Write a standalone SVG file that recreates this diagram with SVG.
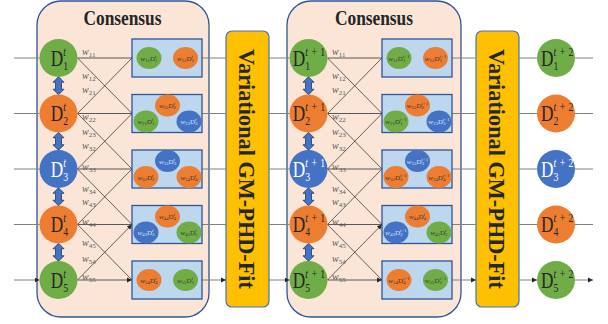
<svg xmlns="http://www.w3.org/2000/svg" xmlns:xlink="http://www.w3.org/1999/xlink" width="608" height="324" viewBox="0 0 608 324">
<style>
text{font-family:"Liberation Serif","Times New Roman",serif;fill:#262626}
.blk{fill:#fbe5d6;stroke:#2f5597;stroke-width:1.3}
.box{fill:#bdd7ee;stroke:#2f5597;stroke-width:1.3}
.fit{fill:#ffc000;stroke:#4472c4;stroke-width:1.2}
.g{fill:#70ad47}.o{fill:#ed7d31}.b{fill:#4472c4}
.in{stroke:#808080;stroke-width:1;fill:none;marker-end:url(#ah)}
.hz{stroke:#595959;stroke-width:1;fill:none;marker-end:url(#ah)}
.dg{stroke:#262626;stroke-width:0.7;fill:none;marker-end:url(#ah)}
.dbl{fill:#4472c4;stroke:#1f3864;stroke-width:0.8}
.ttl{font-weight:bold;font-size:20px;text-anchor:middle}
.vt{font-weight:bold;font-size:24px;text-anchor:middle}
.D{font-size:23px}
.sb{font-size:13px}
.lt text,text.lt{fill:#ffffff}
.w{font-size:10px;fill:#595959;font-style:italic}
.ws{font-size:7px;font-style:normal}
.et{font-size:7px;text-anchor:middle;fill:#3b3838}
.et.lt{fill:#dae3f3}
.es{font-size:5px}
.it{font-style:italic}
</style>
<defs>
<marker id="ah" markerWidth="6" markerHeight="6" refX="5" refY="3" orient="auto" markerUnits="userSpaceOnUse">
<path d="M0,0.5 L5,3 L0,5.5 z" fill="#262626"/>
</marker>
<path id="dbl" d="M0,-9 L5.5,-3.5 L3,-3.5 L3,3.5 L5.5,3.5 L0,9 L-5.5,3.5 L-3,3.5 L-3,-3.5 L-5.5,-3.5 Z"/>
</defs>

<!-- consensus panels -->
<g id="cons1">
<rect class="blk" x="37" y="1" width="172" height="316" rx="24"/>
<text class="ttl" x="122.5" y="24.5" textLength="78" lengthAdjust="spacingAndGlyphs">Consensus</text>
</g>
<g id="cons2">
<rect class="blk" x="287" y="1" width="174" height="316" rx="24"/>
<text class="ttl" x="374" y="24.5" textLength="78" lengthAdjust="spacingAndGlyphs">Consensus</text>
</g>

<!-- fitting stages -->
<g id="fit1">
<rect class="fit" x="226" y="31" width="43" height="276" rx="6"/>
<text class="vt" transform="translate(238.5,169) rotate(90)" textLength="240" lengthAdjust="spacingAndGlyphs">Variational GM-PHD-Fit</text>
</g>
<g id="fit2">
<rect class="fit" x="476" y="31" width="43" height="276" rx="6"/>
<text class="vt" transform="translate(488.5,169) rotate(90)" textLength="240" lengthAdjust="spacingAndGlyphs">Variational GM-PHD-Fit</text>
</g>

<!-- connectors -->
<g id="connectors">
<path class="in" d="M14,58H39.5M14,113.5H39.5M14,169H39.5M14,224.5H39.5M14,280H39.5"/>
<path class="hz" d="M77.5,58H132M77.5,113.5H132M77.5,169H132M77.5,224.5H132M77.5,280H132"/>
<path class="dg" d="M77.5,58L132,113.5M77.5,113.5L132,58M77.5,113.5L132,169M77.5,169L132,113.5M77.5,169L132,224.5M77.5,224.5L132,169M77.5,224.5L132,280M77.5,280L132,224.5"/>
<path class="in" d="M202,58H226M202,113.5H226M202,169H226M202,224.5H226M202,280H226"/>
<path class="in" d="M269,58H289.5M269,113.5H289.5M269,169H289.5M269,224.5H289.5M269,280H289.5"/>
<path class="hz" d="M327.5,58H382M327.5,113.5H382M327.5,169H382M327.5,224.5H382M327.5,280H382"/>
<path class="dg" d="M327.5,58L382,113.5M327.5,113.5L382,58M327.5,113.5L382,169M327.5,169L382,113.5M327.5,169L382,224.5M327.5,224.5L382,169M327.5,224.5L382,280M327.5,280L382,224.5"/>
<path class="in" d="M452,58H476M452,113.5H476M452,169H476M452,224.5H476M452,280H476"/>
<path class="in" d="M519,58H537M519,113.5H537M519,169H537M519,224.5H537M519,280H537"/>
<path class="in" d="M575,58H593M575,113.5H593M575,169H593M575,224.5H593M575,280H593"/>
<use href="#dbl" class="dbl" x="58.5" y="85.75"/>
<use href="#dbl" class="dbl" x="58.5" y="141.25"/>
<use href="#dbl" class="dbl" x="58.5" y="196.75"/>
<use href="#dbl" class="dbl" x="58.5" y="252.25"/>
<use href="#dbl" class="dbl" x="308.5" y="85.75"/>
<use href="#dbl" class="dbl" x="308.5" y="141.25"/>
<use href="#dbl" class="dbl" x="308.5" y="196.75"/>
<use href="#dbl" class="dbl" x="308.5" y="252.25"/>
</g>

<!-- edge weights -->
<g id="weights1">
<text class="w" x="82" y="54.5">w<tspan class="ws" dy="2">11</tspan></text>
<text class="w" x="82" y="79">w<tspan class="ws" dy="2">12</tspan></text>
<text class="w" x="82" y="93">w<tspan class="ws" dy="2">21</tspan></text>
<text class="w" x="82" y="119.5">w<tspan class="ws" dy="2">22</tspan></text>
<text class="w" x="82" y="134.5">w<tspan class="ws" dy="2">23</tspan></text>
<text class="w" x="82" y="149">w<tspan class="ws" dy="2">32</tspan></text>
<text class="w" x="82" y="170">w<tspan class="ws" dy="2">33</tspan></text>
<text class="w" x="82" y="191.5">w<tspan class="ws" dy="2">34</tspan></text>
<text class="w" x="82" y="205">w<tspan class="ws" dy="2">43</tspan></text>
<text class="w" x="82" y="224.5">w<tspan class="ws" dy="2">44</tspan></text>
<text class="w" x="82" y="245.5">w<tspan class="ws" dy="2">45</tspan></text>
<text class="w" x="82" y="261.5">w<tspan class="ws" dy="2">54</tspan></text>
<text class="w" x="82" y="280">w<tspan class="ws" dy="2">55</tspan></text>
</g>
<g id="weights2">
<text class="w" x="332" y="54.5">w<tspan class="ws" dy="2">11</tspan></text>
<text class="w" x="332" y="79">w<tspan class="ws" dy="2">12</tspan></text>
<text class="w" x="332" y="93">w<tspan class="ws" dy="2">21</tspan></text>
<text class="w" x="332" y="119.5">w<tspan class="ws" dy="2">22</tspan></text>
<text class="w" x="332" y="134.5">w<tspan class="ws" dy="2">23</tspan></text>
<text class="w" x="332" y="149">w<tspan class="ws" dy="2">32</tspan></text>
<text class="w" x="332" y="170">w<tspan class="ws" dy="2">33</tspan></text>
<text class="w" x="332" y="191.5">w<tspan class="ws" dy="2">34</tspan></text>
<text class="w" x="332" y="205">w<tspan class="ws" dy="2">43</tspan></text>
<text class="w" x="332" y="224.5">w<tspan class="ws" dy="2">44</tspan></text>
<text class="w" x="332" y="245.5">w<tspan class="ws" dy="2">45</tspan></text>
<text class="w" x="332" y="261.5">w<tspan class="ws" dy="2">54</tspan></text>
<text class="w" x="332" y="280">w<tspan class="ws" dy="2">55</tspan></text>
</g>

<!-- fused boxes, step t -->
<g id="f1a">
<rect class="box" x="132" y="39" width="70" height="38"/>
<ellipse class="g" cx="149" cy="58" rx="12.5" ry="11"/>
<text class="et" x="149" y="60.5"><tspan class="it">w</tspan><tspan class="es" dy="1.4">11</tspan><tspan dy="-1.4">D</tspan><tspan class="es" dy="1.4">1</tspan><tspan class="es it" dx="-2.5" dy="-4.2">t</tspan></text>
<ellipse class="o" cx="185.5" cy="58" rx="12.5" ry="11"/>
<text class="et" x="185.5" y="60.5"><tspan class="it">w</tspan><tspan class="es" dy="1.4">12</tspan><tspan dy="-1.4">D</tspan><tspan class="es" dy="1.4">2</tspan><tspan class="es it" dx="-2.5" dy="-4.2">t</tspan></text>
</g>
<g id="f2a">
<rect class="box" x="132" y="94.5" width="70" height="38"/>
<ellipse class="o" cx="167.5" cy="105.5" rx="12.5" ry="11"/>
<text class="et" x="167.5" y="108"><tspan class="it">w</tspan><tspan class="es" dy="1.4">22</tspan><tspan dy="-1.4">D</tspan><tspan class="es" dy="1.4">2</tspan><tspan class="es it" dx="-2.5" dy="-4.2">t</tspan></text>
<ellipse class="g" cx="146" cy="121.5" rx="12.5" ry="11"/>
<text class="et" x="146" y="124"><tspan class="it">w</tspan><tspan class="es" dy="1.4">21</tspan><tspan dy="-1.4">D</tspan><tspan class="es" dy="1.4">1</tspan><tspan class="es it" dx="-2.5" dy="-4.2">t</tspan></text>
<ellipse class="b" cx="189" cy="121.5" rx="12.5" ry="11"/>
<text class="et lt" x="189" y="124"><tspan class="it">w</tspan><tspan class="es" dy="1.4">23</tspan><tspan dy="-1.4">D</tspan><tspan class="es" dy="1.4">3</tspan><tspan class="es it" dx="-2.5" dy="-4.2">t</tspan></text>
</g>
<g id="f3a">
<rect class="box" x="132" y="150" width="70" height="38"/>
<ellipse class="b" cx="167.5" cy="161" rx="12.5" ry="11"/>
<text class="et lt" x="167.5" y="163.5"><tspan class="it">w</tspan><tspan class="es" dy="1.4">33</tspan><tspan dy="-1.4">D</tspan><tspan class="es" dy="1.4">3</tspan><tspan class="es it" dx="-2.5" dy="-4.2">t</tspan></text>
<ellipse class="o" cx="146" cy="177" rx="12.5" ry="11"/>
<text class="et" x="146" y="179.5"><tspan class="it">w</tspan><tspan class="es" dy="1.4">32</tspan><tspan dy="-1.4">D</tspan><tspan class="es" dy="1.4">2</tspan><tspan class="es it" dx="-2.5" dy="-4.2">t</tspan></text>
<ellipse class="o" cx="189" cy="177" rx="12.5" ry="11"/>
<text class="et" x="189" y="179.5"><tspan class="it">w</tspan><tspan class="es" dy="1.4">34</tspan><tspan dy="-1.4">D</tspan><tspan class="es" dy="1.4">4</tspan><tspan class="es it" dx="-2.5" dy="-4.2">t</tspan></text>
</g>
<g id="f4a">
<rect class="box" x="132" y="205.5" width="70" height="38"/>
<ellipse class="o" cx="167.5" cy="216.5" rx="12.5" ry="11"/>
<text class="et" x="167.5" y="219"><tspan class="it">w</tspan><tspan class="es" dy="1.4">44</tspan><tspan dy="-1.4">D</tspan><tspan class="es" dy="1.4">4</tspan><tspan class="es it" dx="-2.5" dy="-4.2">t</tspan></text>
<ellipse class="b" cx="146" cy="232.5" rx="12.5" ry="11"/>
<text class="et lt" x="146" y="235"><tspan class="it">w</tspan><tspan class="es" dy="1.4">43</tspan><tspan dy="-1.4">D</tspan><tspan class="es" dy="1.4">3</tspan><tspan class="es it" dx="-2.5" dy="-4.2">t</tspan></text>
<ellipse class="g" cx="189" cy="232.5" rx="12.5" ry="11"/>
<text class="et" x="189" y="235"><tspan class="it">w</tspan><tspan class="es" dy="1.4">45</tspan><tspan dy="-1.4">D</tspan><tspan class="es" dy="1.4">5</tspan><tspan class="es it" dx="-2.5" dy="-4.2">t</tspan></text>
</g>
<g id="f5a">
<rect class="box" x="132" y="261" width="70" height="38"/>
<ellipse class="o" cx="149" cy="280" rx="12.5" ry="11"/>
<text class="et" x="149" y="282.5"><tspan class="it">w</tspan><tspan class="es" dy="1.4">54</tspan><tspan dy="-1.4">D</tspan><tspan class="es" dy="1.4">4</tspan><tspan class="es it" dx="-2.5" dy="-4.2">t</tspan></text>
<ellipse class="g" cx="185.5" cy="280" rx="12.5" ry="11"/>
<text class="et" x="185.5" y="282.5"><tspan class="it">w</tspan><tspan class="es" dy="1.4">55</tspan><tspan dy="-1.4">D</tspan><tspan class="es" dy="1.4">5</tspan><tspan class="es it" dx="-2.5" dy="-4.2">t</tspan></text>
</g>

<!-- fused boxes, step t+1 -->
<g id="f1b">
<rect class="box" x="382" y="39" width="70" height="38"/>
<ellipse class="g" cx="399" cy="58" rx="12.5" ry="11"/>
<text class="et" x="399" y="60.5"><tspan class="it">w</tspan><tspan class="es" dy="1.4">11</tspan><tspan dy="-1.4">D</tspan><tspan class="es" dy="1.4">1</tspan><tspan class="es" dx="-2.5" dy="-4.2"><tspan class="it">t</tspan>+1</tspan></text>
<ellipse class="o" cx="435.5" cy="58" rx="12.5" ry="11"/>
<text class="et" x="435.5" y="60.5"><tspan class="it">w</tspan><tspan class="es" dy="1.4">12</tspan><tspan dy="-1.4">D</tspan><tspan class="es" dy="1.4">2</tspan><tspan class="es" dx="-2.5" dy="-4.2"><tspan class="it">t</tspan>+1</tspan></text>
</g>
<g id="f2b">
<rect class="box" x="382" y="94.5" width="70" height="38"/>
<ellipse class="o" cx="417.5" cy="105.5" rx="12.5" ry="11"/>
<text class="et" x="417.5" y="108"><tspan class="it">w</tspan><tspan class="es" dy="1.4">22</tspan><tspan dy="-1.4">D</tspan><tspan class="es" dy="1.4">2</tspan><tspan class="es" dx="-2.5" dy="-4.2"><tspan class="it">t</tspan>+1</tspan></text>
<ellipse class="g" cx="396" cy="121.5" rx="12.5" ry="11"/>
<text class="et" x="396" y="124"><tspan class="it">w</tspan><tspan class="es" dy="1.4">21</tspan><tspan dy="-1.4">D</tspan><tspan class="es" dy="1.4">1</tspan><tspan class="es" dx="-2.5" dy="-4.2"><tspan class="it">t</tspan>+1</tspan></text>
<ellipse class="b" cx="439" cy="121.5" rx="12.5" ry="11"/>
<text class="et lt" x="439" y="124"><tspan class="it">w</tspan><tspan class="es" dy="1.4">23</tspan><tspan dy="-1.4">D</tspan><tspan class="es" dy="1.4">3</tspan><tspan class="es" dx="-2.5" dy="-4.2"><tspan class="it">t</tspan>+1</tspan></text>
</g>
<g id="f3b">
<rect class="box" x="382" y="150" width="70" height="38"/>
<ellipse class="b" cx="417.5" cy="161" rx="12.5" ry="11"/>
<text class="et lt" x="417.5" y="163.5"><tspan class="it">w</tspan><tspan class="es" dy="1.4">33</tspan><tspan dy="-1.4">D</tspan><tspan class="es" dy="1.4">3</tspan><tspan class="es" dx="-2.5" dy="-4.2"><tspan class="it">t</tspan>+1</tspan></text>
<ellipse class="o" cx="396" cy="177" rx="12.5" ry="11"/>
<text class="et" x="396" y="179.5"><tspan class="it">w</tspan><tspan class="es" dy="1.4">32</tspan><tspan dy="-1.4">D</tspan><tspan class="es" dy="1.4">2</tspan><tspan class="es" dx="-2.5" dy="-4.2"><tspan class="it">t</tspan>+1</tspan></text>
<ellipse class="o" cx="439" cy="177" rx="12.5" ry="11"/>
<text class="et" x="439" y="179.5"><tspan class="it">w</tspan><tspan class="es" dy="1.4">34</tspan><tspan dy="-1.4">D</tspan><tspan class="es" dy="1.4">4</tspan><tspan class="es" dx="-2.5" dy="-4.2"><tspan class="it">t</tspan>+1</tspan></text>
</g>
<g id="f4b">
<rect class="box" x="382" y="205.5" width="70" height="38"/>
<ellipse class="o" cx="417.5" cy="216.5" rx="12.5" ry="11"/>
<text class="et" x="417.5" y="219"><tspan class="it">w</tspan><tspan class="es" dy="1.4">44</tspan><tspan dy="-1.4">D</tspan><tspan class="es" dy="1.4">4</tspan><tspan class="es it" dx="-2.5" dy="-4.2">t</tspan></text>
<ellipse class="b" cx="396" cy="232.5" rx="12.5" ry="11"/>
<text class="et lt" x="396" y="235"><tspan class="it">w</tspan><tspan class="es" dy="1.4">43</tspan><tspan dy="-1.4">D</tspan><tspan class="es" dy="1.4">3</tspan><tspan class="es" dx="-2.5" dy="-4.2"><tspan class="it">t</tspan>+1</tspan></text>
<ellipse class="g" cx="439" cy="232.5" rx="12.5" ry="11"/>
<text class="et" x="439" y="235"><tspan class="it">w</tspan><tspan class="es" dy="1.4">45</tspan><tspan dy="-1.4">D</tspan><tspan class="es" dy="1.4">5</tspan><tspan class="es it" dx="-2.5" dy="-4.2">t</tspan></text>
</g>
<g id="f5b">
<rect class="box" x="382" y="261" width="70" height="38"/>
<ellipse class="o" cx="399" cy="280" rx="12.5" ry="11"/>
<text class="et" x="399" y="282.5"><tspan class="it">w</tspan><tspan class="es" dy="1.4">54</tspan><tspan dy="-1.4">D</tspan><tspan class="es" dy="1.4">4</tspan><tspan class="es" dx="-2.5" dy="-4.2"><tspan class="it">t</tspan>+1</tspan></text>
<ellipse class="g" cx="435.5" cy="280" rx="12.5" ry="11"/>
<text class="et" x="435.5" y="282.5"><tspan class="it">w</tspan><tspan class="es" dy="1.4">55</tspan><tspan dy="-1.4">D</tspan><tspan class="es" dy="1.4">5</tspan><tspan class="es" dx="-2.5" dy="-4.2"><tspan class="it">t</tspan>+1</tspan></text>
</g>

<!-- sensor nodes, step t -->
<g id="n1t" transform="translate(58.5,58)"><circle r="19" class="g"/><text class="D" transform="scale(0.75,1)" x="-10.4" y="7.7">D<tspan class="sb it" x="6.4" y="-2.5">t</tspan><tspan class="sb" x="6.4" y="12">1</tspan></text></g>
<g id="n2t" transform="translate(58.5,113.5)"><circle r="19" class="o"/><text class="D" transform="scale(0.75,1)" x="-10.4" y="7.7">D<tspan class="sb it" x="6.4" y="-2.5">t</tspan><tspan class="sb" x="6.4" y="12">2</tspan></text></g>
<g id="n3t" class="lt" transform="translate(58.5,169)"><circle r="19" class="b"/><text class="D" transform="scale(0.75,1)" x="-10.4" y="7.7">D<tspan class="sb it" x="6.4" y="-2.5">t</tspan><tspan class="sb" x="6.4" y="12">3</tspan></text></g>
<g id="n4t" transform="translate(58.5,224.5)"><circle r="19" class="o"/><text class="D" transform="scale(0.75,1)" x="-10.4" y="7.7">D<tspan class="sb it" x="6.4" y="-2.5">t</tspan><tspan class="sb" x="6.4" y="12">4</tspan></text></g>
<g id="n5t" transform="translate(58.5,280)"><circle r="19" class="g"/><text class="D" transform="scale(0.75,1)" x="-10.4" y="7.7">D<tspan class="sb it" x="6.4" y="-2.5">t</tspan><tspan class="sb" x="6.4" y="12">5</tspan></text></g>

<!-- sensor nodes, step t+1 -->
<g id="n1t1" transform="translate(308.5,58)"><circle r="19" class="g"/><text class="D" transform="scale(0.75,1)" x="-21" y="7.7">D<tspan class="sb" x="-4.2" y="-2.5"><tspan class="it">t</tspan><tspan dx="4.5">+</tspan><tspan dx="4.5">1</tspan></tspan><tspan class="sb" x="-4.2" y="12">1</tspan></text></g>
<g id="n2t1" transform="translate(308.5,113.5)"><circle r="19" class="o"/><text class="D" transform="scale(0.75,1)" x="-21" y="7.7">D<tspan class="sb" x="-4.2" y="-2.5"><tspan class="it">t</tspan><tspan dx="4.5">+</tspan><tspan dx="4.5">1</tspan></tspan><tspan class="sb" x="-4.2" y="12">2</tspan></text></g>
<g id="n3t1" class="lt" transform="translate(308.5,169)"><circle r="19" class="b"/><text class="D" transform="scale(0.75,1)" x="-21" y="7.7">D<tspan class="sb" x="-4.2" y="-2.5"><tspan class="it">t</tspan><tspan dx="4.5">+</tspan><tspan dx="4.5">1</tspan></tspan><tspan class="sb" x="-4.2" y="12">3</tspan></text></g>
<g id="n4t1" transform="translate(308.5,224.5)"><circle r="19" class="o"/><text class="D" transform="scale(0.75,1)" x="-21" y="7.7">D<tspan class="sb" x="-4.2" y="-2.5"><tspan class="it">t</tspan><tspan dx="4.5">+</tspan><tspan dx="4.5">1</tspan></tspan><tspan class="sb" x="-4.2" y="12">4</tspan></text></g>
<g id="n5t1" transform="translate(308.5,280)"><circle r="19" class="g"/><text class="D" transform="scale(0.75,1)" x="-21" y="7.7">D<tspan class="sb" x="-4.2" y="-2.5"><tspan class="it">t</tspan><tspan dx="4.5">+</tspan><tspan dx="4.5">1</tspan></tspan><tspan class="sb" x="-4.2" y="12">5</tspan></text></g>

<!-- sensor nodes, step t+2 -->
<g id="n1t2" transform="translate(556,58)"><circle r="19" class="g"/><text class="D" transform="scale(0.75,1)" x="-20" y="7.7">D<tspan class="sb" x="-3.2" y="-2.5"><tspan class="it">t</tspan><tspan dx="4.5">+</tspan><tspan dx="4.5">2</tspan></tspan><tspan class="sb" x="-3.2" y="12">1</tspan></text></g>
<g id="n2t2" transform="translate(556,113.5)"><circle r="19" class="o"/><text class="D" transform="scale(0.75,1)" x="-20" y="7.7">D<tspan class="sb" x="-3.2" y="-2.5"><tspan class="it">t</tspan><tspan dx="4.5">+</tspan><tspan dx="4.5">2</tspan></tspan><tspan class="sb" x="-3.2" y="12">2</tspan></text></g>
<g id="n3t2" class="lt" transform="translate(556,169)"><circle r="19" class="b"/><text class="D" transform="scale(0.75,1)" x="-20" y="7.7">D<tspan class="sb" x="-3.2" y="-2.5"><tspan class="it">t</tspan><tspan dx="4.5">+</tspan><tspan dx="4.5">2</tspan></tspan><tspan class="sb" x="-3.2" y="12">3</tspan></text></g>
<g id="n4t2" transform="translate(556,224.5)"><circle r="19" class="o"/><text class="D" transform="scale(0.75,1)" x="-20" y="7.7">D<tspan class="sb" x="-3.2" y="-2.5"><tspan class="it">t</tspan><tspan dx="4.5">+</tspan><tspan dx="4.5">2</tspan></tspan><tspan class="sb" x="-3.2" y="12">4</tspan></text></g>
<g id="n5t2" transform="translate(556,280)"><circle r="19" class="g"/><text class="D" transform="scale(0.75,1)" x="-20" y="7.7">D<tspan class="sb" x="-3.2" y="-2.5"><tspan class="it">t</tspan><tspan dx="4.5">+</tspan><tspan dx="4.5">2</tspan></tspan><tspan class="sb" x="-3.2" y="12">5</tspan></text></g>
</svg>
